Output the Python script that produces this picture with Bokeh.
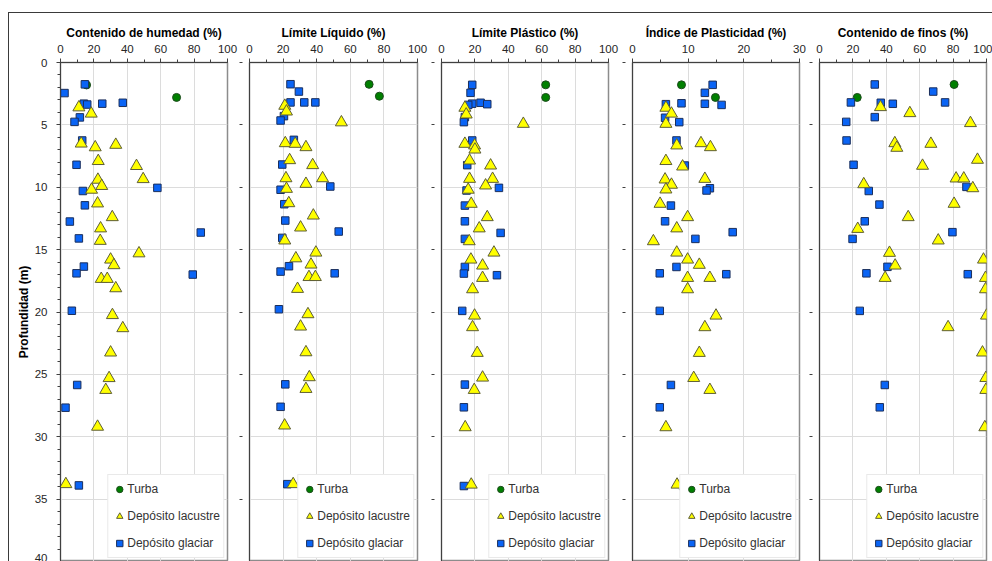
from bokeh.plotting import figure
from bokeh.models import (Range1d, FixedTicker, Legend, LegendItem, Title, Row, AllLabels)
from bokeh.embed import file_html
from bokeh.resources import INLINE

# ---------------------------------------------------------------- data
# Depths (m) and measured values (%) for each soil group and property

# Contenido de humedad
hum_turba_z = [1.8, 2.8]
hum_turba_v = [15.6, 69.5]
hum_lac_z = [3.6, 4.1, 6.5, 6.8, 6.6, 7.9, 8.3, 9.35, 9.4, 9.9, 10.2, 11.3, 12.4, 13.3,
             14.3, 15.3, 15.8, 16.25, 17.35, 17.35, 18.1, 20.25, 21.3, 23.25, 25.3, 26.25,
             29.2, 33.8]
hum_lac_v = [11, 18.4, 12.4, 20.8, 33.1, 22.6, 45.5, 49.5, 22.4, 24.7, 18.6, 22.2, 31, 24,
             23.8, 47, 30, 32, 24.4, 28, 33.1, 31.1, 37.3, 30, 29.1, 27.1, 22.2, 3.2]
hum_gla_z = [1.75, 2.45, 3.3, 3.37, 3.3, 3.23, 4.4, 4.76, 6.25, 8.2, 10.05, 10.3, 11.45,
             12.75, 13.63, 14.1, 16.36, 16.9, 17.0, 19.9, 25.85, 27.67, 33.9]
hum_gla_v = [14.6, 2.4, 14, 16, 25, 37.3, 11.6, 8.4, 13, 9.6, 58, 13.4, 14.6, 5.6, 84, 11,
             14, 9.6, 79.2, 6.8, 10, 3, 11]

# Límite Líquido
ll_turba_z = [1.75, 2.7]
ll_turba_v = [71.2, 77.3]
ll_lac_z = [3.47, 3.93, 4.8, 6.47, 6.52, 6.79, 7.83, 8.23, 9.28, 9.28, 9.73, 10.13, 11.28,
            12.27, 13.23, 14.27, 15.24, 15.7, 16.2, 17.2, 17.2, 18.15, 20.18, 21.17, 23.23,
            25.23, 26.17, 29.1, 33.8]
ll_lac_v = [21, 22, 54.7, 21.3, 27.2, 33.6, 23.9, 37.6, 43.5, 21.7, 33.6, 22, 23.4, 38,
            30.4, 21, 39.5, 27.6, 36.6, 35.4, 39.2, 28.6, 34.8, 30.4, 33.6, 35.6, 33.6,
            20.9, 26]
ll_gla_z = [1.74, 2.33, 3.2, 3.2, 3.2, 4.3, 4.65, 6.2, 8.18, 9.94, 10.2, 11.36, 12.67,
            13.55, 14.06, 16.33, 16.76, 16.9, 19.78, 25.8, 27.6, 33.8]
ll_gla_v = [24.4, 29.4, 24.4, 32.6, 39.2, 20.5, 18.5, 26.4, 19.5, 48.1, 18.5, 20.7, 21.3,
            53.1, 19.5, 23.5, 18.5, 50.7, 17.5, 21.3, 18.5, 22.5]

# Límite Plástico
lp_turba_z = [1.79, 2.8]
lp_turba_v = [62.4, 62.4]
lp_lac_z = [3.63, 4.17, 4.92, 6.52, 6.65, 6.98, 7.86, 8.26, 9.33, 9.33, 9.86, 10.2, 11.33,
            12.4, 13.3, 14.33, 15.24, 15.8, 16.28, 17.27, 18.18, 20.29, 21.22, 23.28, 25.26,
            26.25, 29.24, 33.84]
lp_lac_v = [14, 14.8, 49, 14, 19.8, 20, 16.8, 29.4, 30.6, 16.8, 26.4, 16, 17.8, 27.4, 22.6,
            16.6, 31.4, 17.6, 24.6, 24.6, 18.6, 19.8, 18.6, 21.4, 24.6, 19.6, 14.2, 17.8]
lp_gla_z = [1.79, 2.43, 3.3, 3.4, 3.23, 3.34, 4.38, 4.78, 6.25, 8.23, 10.05, 10.26, 11.47,
            12.73, 13.66, 14.14, 16.39, 16.92, 17.05, 19.91, 25.82, 27.64, 33.95]
lp_gla_v = [18.4, 17.4, 18.4, 16, 23.4, 27.4, 14, 13.4, 18.4, 15.4, 34.4, 15, 14, 14, 35.4,
            14, 14, 13.4, 33.2, 12.4, 14, 13.4, 13.4]

# Índice de Plasticidad
ip_turba_z = [1.79, 2.8]
ip_turba_v = [8.8, 14.9]
ip_lac_z = [3.63, 4.1, 4.92, 6.47, 6.65, 6.79, 7.9, 8.34, 9.33, 9.38, 9.8, 10.18, 11.33,
            12.4, 13.3, 14.33, 15.24, 15.8, 16.22, 17.27, 17.27, 18.18, 20.29, 21.22, 23.28,
            25.29, 26.25, 29.24, 33.84]
ip_lac_v = [6, 7, 6, 12.3, 7.95, 14, 6, 9, 13, 5.85, 7, 6, 4.95, 9.9, 7.95, 3.75, 7.95, 9.9,
            12, 9.9, 13.9, 9.9, 15, 13, 12, 11, 13.9, 6, 8.0]
ip_gla_z = [1.79, 2.43, 3.34, 3.27, 3.31, 3.4, 4.43, 4.78, 6.25, 8.26, 10.08, 10.26, 11.47,
            12.73, 13.6, 14.14, 16.39, 16.9, 16.97, 19.91, 25.85, 27.64, 33.95]
ip_gla_v = [14.4, 13, 6, 8.8, 13, 16, 5.85, 8.4, 7.9, 9.4, 13.9, 13.3, 6.9, 5.85, 18, 11.3,
            7.9, 4.9, 16.85, 4.9, 6.9, 4.9, 9.1]

# Contenido de finos
fin_turba_z = [1.76, 2.8]
fin_turba_v = [80.6, 22.6]
fin_lac_z = [3.58, 4.06, 4.86, 6.47, 6.84, 6.52, 7.8, 8.28, 9.3, 9.3, 9.76, 10.08, 11.33,
             12.4, 13.34, 14.27, 15.26, 15.8, 16.28, 17.27, 17.27, 18.18, 20.29, 21.22,
             23.25, 25.29, 26.25, 29.24]
fin_lac_v = [36.5, 54.1, 90.4, 45.1, 46.3, 66.7, 94.6, 61.7, 81.8, 86.4, 26.5, 91.8, 80.6,
             53.1, 22.9, 71.1, 41.9, 98.2, 45.3, 39.3, 99.4, 99.4, 100, 77, 97.6, 99.6,
             99.6, 99]
fin_gla_z = [1.76, 2.33, 3.2, 3.23, 3.31, 3.2, 4.38, 4.76, 6.25, 8.2, 9.97, 10.3, 11.39,
             12.73, 13.6, 14.14, 16.38, 16.9, 16.97, 19.91, 25.85, 27.64]
fin_gla_v = [33.1, 68.1, 18.8, 36.7, 43.9, 75.2, 33.1, 16, 16.2, 20.4, 88, 29.5, 35.9, 27.1,
             79.6, 19.8, 40.7, 28.1, 88.8, 24.1, 39.1, 36.1]

titles = ["Contenido de humedad (%)", "Límite Líquido (%)", "Límite Plástico (%)",
          "Índice de Plasticidad (%)", "Contenido de finos (%)"]
x_max = [100, 100, 100, 30, 100]
group_names = ["Turba", "Depósito lacustre", "Depósito glaciar"]
depth_ticks = list(range(0, 45, 5))
y_label = "Profundidad (m)"

panels = [
    (hum_turba_z, hum_turba_v, hum_lac_z, hum_lac_v, hum_gla_z, hum_gla_v),
    (ll_turba_z, ll_turba_v, ll_lac_z, ll_lac_v, ll_gla_z, ll_gla_v),
    (lp_turba_z, lp_turba_v, lp_lac_z, lp_lac_v, lp_gla_z, lp_gla_v),
    (ip_turba_z, ip_turba_v, ip_lac_z, ip_lac_v, ip_gla_z, ip_gla_v),
    (fin_turba_z, fin_turba_v, fin_lac_z, fin_lac_v, fin_gla_z, fin_gla_v),
]

# ---------------------------------------------------------------- styling
FONT = "Liberation Sans"
FRAME_H = 499
TOP = 49
frame_w = [167, 168, 167, 167, 167]
border_l = [51, 11, 12, 12, 10]
border_r = [11, 12, 12, 10, 6]

AXIS_COL = "#404040"
GRID_COL = "#dcdcdc"
TEXT_COL = "#262626"


def make_panel(i):
    tz, tv, lz, lv, gz, gv = panels[i]
    xm = x_max[i]
    p = figure(
        width=border_l[i] + frame_w[i] + border_r[i], height=TOP + FRAME_H,
        frame_width=frame_w[i], frame_height=FRAME_H,
        x_range=Range1d(0, xm), y_range=Range1d(40, 0),
        x_axis_location="above", y_axis_location="left",
        min_border_left=border_l[i], min_border_right=border_r[i],
        min_border_top=TOP, min_border_bottom=0,
        output_backend="svg", toolbar_location=None, title=titles[i],
        background_fill_color="white", border_fill_color="white",
    )
    p.title.align = "center"
    p.title.text_font = FONT
    p.title.text_font_size = "12px"
    p.title.text_font_style = "bold"
    p.title.text_color = "black"
    p.title.standoff = 4

    p.outline_line_color = "#8c8c8c"
    p.outline_line_width = 1.5

    if xm == 100:
        major = list(range(0, 101, 20))
        minor = list(range(0, 101, 10))
    else:
        major = list(range(0, xm + 1, 10))
        minor = list(range(0, xm + 1, 5))

    xa = p.xaxis[0]
    xa.ticker = FixedTicker(ticks=major, minor_ticks=minor)
    xa.major_label_policy = AllLabels()
    xa.axis_line_color = AXIS_COL
    xa.major_tick_line_color = AXIS_COL
    xa.minor_tick_line_color = AXIS_COL
    xa.major_tick_in = 0
    xa.major_tick_out = 4
    xa.minor_tick_in = 0
    xa.minor_tick_out = 3
    xa.major_label_standoff = 6
    xa.major_label_text_font = FONT
    xa.major_label_text_font_size = "11.5px"
    xa.major_label_text_color = TEXT_COL

    ya = p.yaxis[0]
    ya.axis_line_color = AXIS_COL
    ya.major_tick_line_color = AXIS_COL
    ya.minor_tick_line_color = AXIS_COL
    if i == 0:
        ya.ticker = FixedTicker(ticks=depth_ticks, minor_ticks=list(range(0, 41)))
        ya.major_label_policy = AllLabels()
        ya.major_tick_in = 0
        ya.major_tick_out = 4
        ya.minor_tick_in = 0
        ya.minor_tick_out = 3
        ya.major_label_standoff = 9
        ya.major_label_text_font = FONT
        ya.major_label_text_font_size = "11.5px"
        ya.major_label_text_color = TEXT_COL
        p.add_layout(Title(
            text=y_label, align="center", standoff=2,
            text_font=FONT, text_font_size="12px", text_font_style="bold",
            text_color="black",
        ), "left")
    else:
        # depth ticks only, the labels are shared with the first profile
        ya.ticker = FixedTicker(ticks=depth_ticks, minor_ticks=[])
        ya.major_tick_in = -7
        ya.major_tick_out = 10
        ya.major_label_standoff = 0
        ya.major_label_overrides = {t: "" for t in depth_ticks}

    p.xgrid.ticker = FixedTicker(ticks=major)
    p.ygrid.ticker = FixedTicker(ticks=depth_ticks)
    p.grid.grid_line_color = GRID_COL
    p.grid.grid_line_width = 1

    r_t = p.scatter(tv, tz, marker="circle", size=8, fill_color="#008000",
                    line_color="#1e4a1e", line_width=1)
    r_g = p.scatter(gv, gz, marker="square", size=7.5, fill_color="#0a64f5",
                    line_color="#1b2f5c", line_width=1)
    r_l = p.scatter(lv, lz, marker="triangle", size=12, fill_color="#ffff00",
                    line_color="#5e5e36", line_width=1)

    legend = Legend(
        items=[LegendItem(label=group_names[0], renderers=[r_t]),
               LegendItem(label=group_names[1], renderers=[r_l]),
               LegendItem(label=group_names[2], renderers=[r_g])],
        location="bottom_right", margin=3, padding=3, spacing=5,
        label_height=22, glyph_height=22, glyph_width=16, label_standoff=0,
        label_text_font=FONT, label_text_font_size="12px", label_text_color="#333333",
        border_line_color="#d4d4d4", border_line_width=1,
        background_fill_color="white", background_fill_alpha=1,
    )
    p.add_layout(legend)
    return p


figs = [make_panel(i) for i in range(5)]

layout = Row(
    children=figs, spacing=0, margin=(12, 0, 0, 8),
    styles={"border-top": "1px solid #3a3a3a", "border-left": "1px solid #3a3a3a",
            "background-color": "white"},
)

with open("out.html", "w") as f:
    f.write(file_html(layout, INLINE, title="Perfiles geotécnicos"))
